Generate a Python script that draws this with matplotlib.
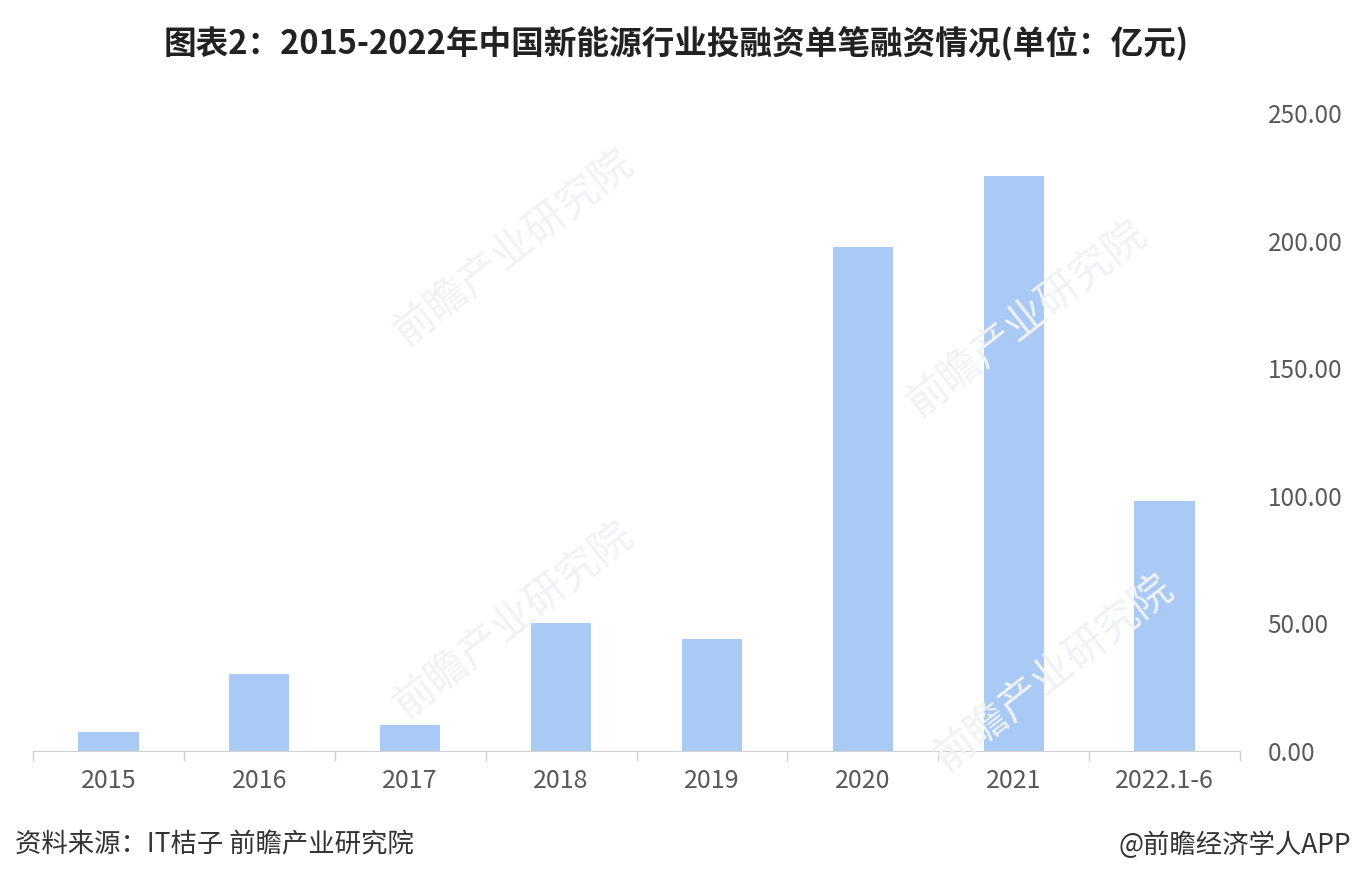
import matplotlib.pyplot as plt
import numpy as np

plt.rcParams['font.family'] = ['Noto Sans CJK SC', 'DejaVu Sans']

# data
years = ['2015', '2016', '2017', '2018', '2019', '2020', '2021', '2022.1-6']
amount = [7.6, 30.2, 10.1, 50.0, 43.8, 197.5, 225.3, 97.8]
yticks = [0, 50, 100, 150, 200, 250]

title = '图表2：2015-2022年中国新能源行业投融资单笔融资情况(单位：亿元)'
source = '资料来源：IT桔子 前瞻产业研究院'
credit = '@前瞻经济学人APP'

fig = plt.figure(figsize=(13.52, 8.86), dpi=100)
ax = fig.add_axes([33 / 1352, 1 - 751 / 886, (1240 - 33) / 1352, (751 - 113) / 886])

x = np.arange(len(years))
ax.bar(x, amount, width=0.4, color='#A9CAF4', zorder=2)

ax.set_xlim(-0.5, len(years) - 0.5)
ax.set_ylim(0, 250)

# category boundary ticks
ax.set_xticks(np.arange(len(years) + 1) - 0.5)
ax.set_xticklabels([])
ax.set_xticks(x, minor=True)
ax.set_xticklabels(years, minor=True, fontsize=18, color='#595959')
ax.tick_params(axis='x', which='major', length=7, color='#D0D0D0', width=1)
ax.tick_params(axis='x', which='minor', length=0, pad=12)

ax.yaxis.tick_right()
ax.set_yticks(yticks)
ax.set_yticklabels(['%.2f' % v for v in yticks], fontsize=17.5, color='#595959')
ax.tick_params(axis='y', length=0, pad=20)

for s in ['top', 'left', 'right']:
    ax.spines[s].set_visible(False)
ax.spines['bottom'].set_color('#D0D0D0')

fig.text(0.5, 1 - 43 / 886, title, ha='center', va='center',
         fontsize=23.5, fontweight='bold', color='#222222')
fig.text(15 / 1352, 1 - 845 / 886, source, ha='left', va='center',
         fontsize=19, color='#333333')
fig.text(1351 / 1352, 1 - 845 / 886, credit, ha='right', va='center',
         fontsize=19, color='#333333')

# faint watermarks
for wx, wy in [(0.38, 0.72), (0.76, 0.64), (0.38, 0.30), (0.78, 0.24)]:
    fig.text(wx, wy, '前瞻产业研究院', rotation=38, fontsize=30, color='#F0F2F6',
             ha='center', va='center', zorder=0)

fig.savefig('out.png', dpi=100)
